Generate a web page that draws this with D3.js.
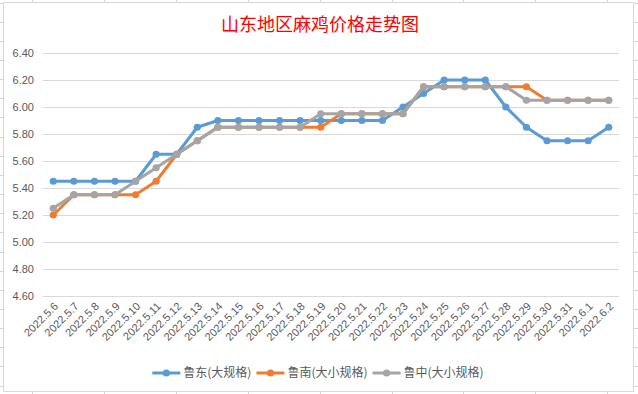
<!DOCTYPE html>
<html>
<head>
<meta charset="utf-8">
<script src="https://cdn.jsdelivr.net/npm/d3@7"></script>
<style>
  html, body { margin: 0; padding: 0; background: #fff; }
  svg { display: block; }
</style>
</head>
<body>
<svg id="chart" width="638" height="394"></svg>
<script>
const dates = [
  '2022.5.6', '2022.5.7', '2022.5.8', '2022.5.9', '2022.5.10', '2022.5.11', '2022.5.12',
  '2022.5.13', '2022.5.14', '2022.5.15', '2022.5.16', '2022.5.17', '2022.5.18', '2022.5.19',
  '2022.5.20', '2022.5.21', '2022.5.22', '2022.5.23', '2022.5.24', '2022.5.25', '2022.5.26',
  '2022.5.27', '2022.5.28', '2022.5.29', '2022.5.30', '2022.5.31', '2022.6.1', '2022.6.2'
];
const ludong = [
  5.45, 5.45, 5.45, 5.45, 5.45, 5.65, 5.65,
  5.85, 5.90, 5.90, 5.90, 5.90, 5.90, 5.90,
  5.90, 5.90, 5.90, 6.00, 6.10, 6.20, 6.20,
  6.20, 6.00, 5.85, 5.75, 5.75, 5.75, 5.85
];
const lunan = [
  5.20, 5.35, 5.35, 5.35, 5.35, 5.45, 5.65,
  5.75, 5.85, 5.85, 5.85, 5.85, 5.85, 5.85,
  5.95, 5.95, 5.95, 5.95, 6.15, 6.15, 6.15,
  6.15, 6.15, 6.15, 6.05, 6.05, 6.05, 6.05
];
const luzhong = [
  5.25, 5.35, 5.35, 5.35, 5.45, 5.55, 5.65,
  5.75, 5.85, 5.85, 5.85, 5.85, 5.85, 5.95,
  5.95, 5.95, 5.95, 5.95, 6.15, 6.15, 6.15,
  6.15, 6.15, 6.05, 6.05, 6.05, 6.05, 6.05
];
const seriesNames = ['鲁东(大规格)', '鲁南(大小规格)', '鲁中(大小规格)'];
const seriesColors = ['#5B9BD5', '#ED7D31', '#A5A5A5'];
const yTicks = [4.6, 4.8, 5.0, 5.2, 5.4, 5.6, 5.8, 6.0, 6.2, 6.4];
const title = '山东地区麻鸡价格走势图';

const svg = d3.select('#chart');

// spreadsheet cells behind the chart
const sheet = svg.append('g').attr('stroke', '#d4d4d4').attr('stroke-width', 1);
d3.range(0, 21).forEach(k => {
  const y = Math.round(2.6 + 19.15 * k) + 0.5;
  sheet.append('line').attr('x1', 0).attr('x2', 638).attr('y1', y).attr('y2', y);
});
d3.range(0, 9).forEach(k => {
  const x = Math.round(32 + 71.9 * k) + 0.5;
  sheet.append('line').attr('x1', x).attr('x2', x).attr('y1', 0).attr('y2', 394);
});

// chart box
svg.append('rect')
  .attr('x', 3.5).attr('y', 2.5)
  .attr('width', 630).attr('height', 389)
  .attr('fill', '#fff')
  .attr('stroke', '#d9d9d9');

// title
svg.append('text')
  .attr('x', 320).attr('y', 31)
  .attr('text-anchor', 'middle')
  .attr('font-family', '"Noto Sans CJK SC", sans-serif')
  .attr('font-size', '18px')
  .attr('fill', '#ff0000')
  .text(title);

// scales
const x = d3.scalePoint().domain(dates).range([43, 619]).padding(0.5);
const y = d3.scaleLinear().domain([4.6, 6.4]).range([296, 53]);

// gridlines + y labels
const yAxis = d3.axisLeft(y)
  .tickValues(yTicks)
  .tickFormat(d3.format('.2f'))
  .tickSize(-576)
  .tickPadding(9);
const yg = svg.append('g')
  .attr('transform', 'translate(43,0)')
  .call(yAxis);
yg.select('.domain').remove();
yg.selectAll('.tick line').attr('stroke', '#d9d9d9');
yg.selectAll('.tick text')
  .attr('fill', '#595959')
  .attr('font-family', '"Liberation Sans", sans-serif')
  .attr('font-size', '11px');

// x labels, rotated
const xAxis = d3.axisBottom(x).tickSize(0).tickPadding(0);
const xg = svg.append('g')
  .attr('transform', 'translate(0,296)')
  .call(xAxis);
xg.select('.domain').remove();
xg.selectAll('.tick text')
  .attr('fill', '#595959')
  .attr('font-family', '"Liberation Sans", sans-serif')
  .attr('font-size', '11px')
  .attr('text-anchor', 'end')
  .attr('dy', null)
  .attr('transform', 'translate(5,11) rotate(-45)');

// lines and markers
const allSeries = [ludong, lunan, luzhong];
const line = d3.line()
  .x((d, i) => x(dates[i]))
  .y(d => y(d));

allSeries.forEach((vals, si) => {
  const g = svg.append('g');
  g.append('path')
    .datum(vals)
    .attr('d', line)
    .attr('fill', 'none')
    .attr('stroke', seriesColors[si])
    .attr('stroke-width', 3)
    .attr('stroke-linejoin', 'round');
  g.selectAll('circle')
    .data(vals)
    .enter()
    .append('circle')
    .attr('cx', (d, i) => x(dates[i]))
    .attr('cy', d => y(d))
    .attr('r', 3.6)
    .attr('fill', seriesColors[si]);
});

// legend
const legend = svg.append('g');
const items = seriesNames.map((name, i) => {
  const g = legend.append('g');
  g.append('line')
    .attr('x1', 0).attr('x2', 28)
    .attr('y1', 0).attr('y2', 0)
    .attr('stroke', seriesColors[i])
    .attr('stroke-width', 3);
  g.append('circle')
    .attr('cx', 14).attr('cy', 0).attr('r', 3.6)
    .attr('fill', seriesColors[i]);
  const t = g.append('text')
    .attr('x', 31).attr('dy', '0.35em')
    .attr('fill', '#595959')
    .attr('font-family', '"Noto Sans CJK SC", sans-serif')
    .attr('font-size', '12px')
    .text(name);
  return { g, w: 31 + t.node().getComputedTextLength() };
});
const gap = 5;
const total = d3.sum(items, d => d.w) + gap * (items.length - 1);
let cx = 318 - total / 2;
items.forEach(it => {
  it.g.attr('transform', `translate(${cx},373)`);
  cx += it.w + gap;
});
</script>
</body>
</html>
